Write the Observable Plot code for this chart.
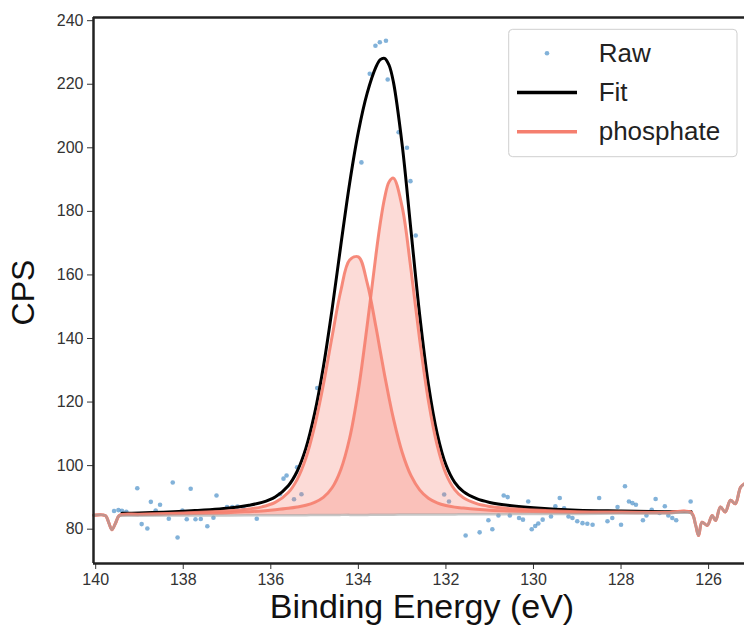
<!DOCTYPE html>
<html>
<head>
<meta charset="utf-8">
<script src="https://cdn.jsdelivr.net/npm/d3@7"></script>
<script src="https://cdn.jsdelivr.net/npm/@observablehq/plot@0.6"></script>
<style>
  body { margin: 0; background: #fff; }
  #wrap { position: relative; width: 744px; height: 632px; overflow: hidden; font-family: "Liberation Sans", Arial, sans-serif; }
  #legend { position: absolute; left: 508px; top: 28px; }
</style>
</head>
<body>
<div id="wrap"></div>
<script>
// ---- tick labels ----
const xTicks = [140, 138, 136, 134, 132, 130, 128, 126];
const yTicks = [80, 100, 120, 140, 160, 180, 200, 220, 240];
const seriesNames = ["Raw", "Fit", "phosphate"];
const axisLabels = { x: "Binding Energy (eV)", y: "CPS" };

// ---- raw data points (binding energy, CPS) ----
const rawEnergy = [139.58, 139.48, 139.40, 139.30, 139.05, 138.95, 138.82, 138.74, 138.63, 138.53,
  138.33, 138.24, 138.13, 138.02, 137.92, 137.83, 137.72, 137.60, 137.45, 137.31,
  137.24, 137.00, 136.88, 136.76, 136.63, 136.32, 135.79, 135.71, 135.64, 135.47,
  135.40, 135.30, 134.94, 133.93, 133.74, 133.61, 133.51, 133.37, 133.33, 133.08,
  132.89, 132.81, 132.69, 132.04, 131.93, 131.55, 131.23, 131.03, 130.94, 130.80,
  130.68, 130.59, 130.54, 130.33, 130.24, 130.12, 130.04, 129.96, 129.89, 129.79,
  129.60, 129.50, 129.40, 129.30, 129.20, 129.11, 129.00, 128.88, 128.77, 128.65,
  128.50, 128.31, 128.20, 128.08, 128.00, 127.91, 127.82, 127.74, 127.66, 127.50,
  127.42, 127.30, 127.21, 127.12, 127.00, 126.92, 126.83, 126.74, 126.41];
const rawCPS = [85.7, 86.0, 85.8, 85.5, 92.9, 81.6, 80.2, 88.6, 85.9, 87.7,
  83.3, 94.7, 77.4, 85.9, 83.1, 92.7, 83.1, 83.2, 80.9, 83.6,
  90.6, 87.0, 87.0, 87.1, 86.9, 83.3, 91.0, 95.9, 96.9, 89.4,
  99.5, 91.0, 124.4, 195.4, 223.3, 232.1, 233.2, 233.7, 221.5, 204.9,
  200.0, 189.5, 172.4, 90.9, 88.7, 78.0, 79.0, 82.8, 80.0, 84.3,
  90.6, 90.1, 84.3, 83.5, 83.0, 88.7, 80.0, 81.0, 81.8, 83.0,
  84.0, 87.2, 89.8, 86.6, 84.0, 83.5, 82.5, 81.9, 81.7, 81.4,
  89.8, 82.5, 83.5, 87.0, 81.4, 93.5, 88.7, 88.2, 87.7, 82.8,
  84.3, 86.1, 89.5, 85.1, 87.2, 84.3, 83.5, 82.8, 88.7];

// ---- fitted model ----
const modelEnergy = [139.4, 139, 138, 137, 136.5, 136.2, 135.9, 135.6, 135.4, 135.2,
  135.0, 134.8, 134.6, 134.4, 134.2, 134.0, 133.8, 133.6, 133.5, 133.4,
  133.3, 133.2, 133.0, 132.8, 132.6, 132.4, 132.2, 132.0, 131.8, 131.6,
  131.3, 131.0, 130.5, 130, 129, 128, 127, 126.4];
const background = [84.2, 84.2, 84.3, 84.3, 84.35, 84.35, 84.4, 84.4, 84.4, 84.4,
  84.45, 84.45, 84.45, 84.5, 84.5, 84.5, 84.5, 84.55, 84.55, 84.55,
  84.55, 84.55, 84.6, 84.6, 84.6, 84.6, 84.65, 84.65, 84.65, 84.7,
  84.7, 84.7, 84.75, 84.8, 84.8, 84.9, 84.9, 85.0];
const phosphate1 = [84.64, 84.72, 85.10, 85.71, 86.38, 87.03, 88.41, 91.53, 95.60, 102.30,
  112.35, 125.45, 140.65, 155.10, 164.70, 165.70, 157.60, 143.75, 136.05, 128.45,
  121.35, 114.85, 104.20, 96.90, 92.38, 89.74, 88.31, 87.46, 86.94, 86.63,
  86.25, 85.97, 85.71, 85.54, 85.28, 85.24, 85.15, 85.21];
const phosphate2 = [84.54, 84.58, 84.86, 85.19, 85.52, 85.75, 86.11, 86.55, 86.95, 87.51,
  88.44, 90.02, 93.04, 98.80, 108.60, 123.80, 144.00, 166.15, 176.25, 184.25,
  189.25, 190.45, 181.40, 161.90, 139.70, 120.40, 106.45, 97.45, 92.46, 89.87,
  88.03, 87.15, 86.42, 86.01, 85.51, 85.37, 85.23, 85.28];
const fitCPS = [84.98, 85.10, 85.66, 86.60, 87.55, 88.43, 90.12, 93.68, 98.15, 105.41,
  116.34, 131.02, 149.24, 169.40, 188.80, 205.00, 217.10, 225.35, 227.75, 228.15,
  226.05, 220.75, 201.00, 174.20, 147.48, 125.54, 110.11, 100.26, 94.75, 91.80,
  89.58, 88.42, 87.38, 86.75, 85.99, 85.71, 85.48, 85.49];

// background outside the fitted range (follows the data)
const leftEdgeEnergy = [140.05, 139.85, 139.77, 139.70, 139.63, 139.55, 139.47];
const leftEdgeCPS = [84.4, 84.5, 84.2, 82.0, 79.8, 81.8, 84.2];
const rightEdgeEnergy = [126.30, 126.23, 126.15, 126.03, 125.92, 125.84, 125.73, 125.62, 125.50, 125.39, 125.27, 125.18];
const rightEdgeCPS = [81.5, 78.0, 82.2, 81.2, 84.3, 82.7, 87.0, 85.4, 89.1, 88.0, 93.2, 94.3];

// ---- build full component/background lines ----
const fullEnergy = [...leftEdgeEnergy, ...modelEnergy, ...rightEdgeEnergy];
const fullBg = [...leftEdgeCPS, ...background, ...rightEdgeCPS];
const fullP1 = [...leftEdgeCPS, ...phosphate1, ...rightEdgeCPS];
const fullP2 = [...leftEdgeCPS, ...phosphate2, ...rightEdgeCPS];

const SALMON = "#f57f6f";
const RAWC = "#2f7fbf";
const fontFam = '"Liberation Sans", Arial, sans-serif';

const chart = Plot.plot({
  width: 744,
  height: 632,
  marginLeft: 93,
  marginRight: 0,
  marginTop: 17,
  marginBottom: 69,
  style: { fontFamily: fontFam, fontSize: "16px", color: "#333", background: "white", overflow: "visible" },
  x: { domain: [140.05, 125.18], ticks: xTicks, tickSize: 6, tickPadding: 4, label: null, tickFormat: d => String(d) },
  y: { domain: [69.2, 241], ticks: yTicks, tickSize: 6, tickPadding: 4, label: null, tickFormat: d => String(d) },
  marks: [
    Plot.dot(rawEnergy, { x: rawEnergy, y: rawCPS, r: 2.3, fill: RAWC, fillOpacity: 0.6, stroke: "none" }),
    Plot.areaY(modelEnergy, { x: modelEnergy, y1: background, y2: phosphate1, fill: SALMON, fillOpacity: 0.28, curve: "catmull-rom" }),
    Plot.areaY(modelEnergy, { x: modelEnergy, y1: background, y2: phosphate2, fill: SALMON, fillOpacity: 0.28, curve: "catmull-rom" }),
    Plot.line(modelEnergy, { x: modelEnergy, y: fitCPS, stroke: "black", strokeWidth: 3, curve: "catmull-rom" }),
    Plot.line(fullEnergy, { x: fullEnergy, y: fullP1, stroke: SALMON, strokeWidth: 3, strokeOpacity: 0.9, curve: "catmull-rom" }),
    Plot.line(fullEnergy, { x: fullEnergy, y: fullP2, stroke: SALMON, strokeWidth: 3, strokeOpacity: 0.9, curve: "catmull-rom" }),
    Plot.line(fullEnergy, { x: fullEnergy, y: fullBg, stroke: "#a0a0a0", strokeWidth: 2.5, strokeOpacity: 0.6, curve: "catmull-rom" }),
    Plot.ruleX([140.05], { stroke: "#222", strokeWidth: 2.5 }),
    Plot.ruleY([69.2, 241], { stroke: "#222", strokeWidth: 2.5 }),
    Plot.text([axisLabels.y], { frameAnchor: "left", textAnchor: "middle", lineAnchor: "middle", dx: -70, dy: 2, rotate: -90, fontSize: 32, fill: "#111", fontFamily: fontFam }),
    Plot.text([axisLabels.x], { frameAnchor: "bottom", textAnchor: "middle", dx: 3, dy: 54, fontSize: 34, fill: "#111", fontFamily: fontFam })
  ]
});

const wrap = document.getElementById("wrap");
wrap.appendChild(chart);

// ---- legend (inside plot, upper right) ----
const ns = "http://www.w3.org/2000/svg";
const leg = document.createElementNS(ns, "svg");
leg.setAttribute("id", "legend");
leg.setAttribute("width", "231");
leg.setAttribute("height", "131");
const rect = document.createElementNS(ns, "rect");
Object.entries({ x: 0.7, y: 1.3, width: 228.3, height: 127.4, rx: 4, fill: "white", "fill-opacity": 0.85, stroke: "#cfcfcf", "stroke-width": 1 })
  .forEach(([k, v]) => rect.setAttribute(k, v));
leg.appendChild(rect);
const swatches = [
  { type: "dot", color: RAWC },
  { type: "line", color: "black" },
  { type: "line", color: SALMON }
];
seriesNames.forEach((name, i) => {
  const cy = 25.3 + i * 39.2;
  const s = swatches[i];
  if (s.type === "dot") {
    const c = document.createElementNS(ns, "circle");
    c.setAttribute("cx", 39); c.setAttribute("cy", cy); c.setAttribute("r", 2.3);
    c.setAttribute("fill", s.color); c.setAttribute("fill-opacity", 0.6);
    leg.appendChild(c);
  } else {
    const l = document.createElementNS(ns, "line");
    l.setAttribute("x1", 9); l.setAttribute("x2", 69);
    l.setAttribute("y1", cy); l.setAttribute("y2", cy);
    l.setAttribute("stroke", s.color); l.setAttribute("stroke-width", 3.5);
    leg.appendChild(l);
  }
  const t = document.createElementNS(ns, "text");
  t.setAttribute("x", 90.7); t.setAttribute("y", cy + 8.6);
  t.setAttribute("font-size", 26); t.setAttribute("fill", "#222");
  t.setAttribute("font-family", fontFam);
  t.textContent = name;
  leg.appendChild(t);
});
wrap.appendChild(leg);
</script>
</body>
</html>
